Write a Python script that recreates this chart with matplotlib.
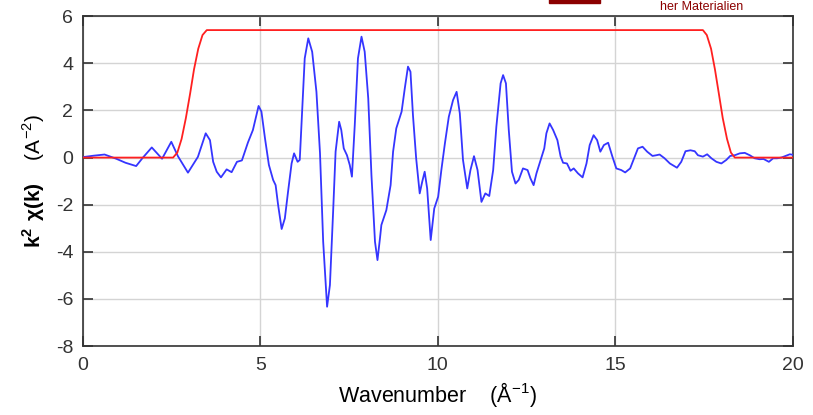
import matplotlib.pyplot as plt
from matplotlib.patches import Rectangle

plt.rcParams['font.family'] = ['Liberation Sans', 'DejaVu Sans']
plt.rcParams['axes.unicode_minus'] = False
plt.rcParams['mathtext.fontset'] = 'custom'
plt.rcParams['mathtext.rm'] = 'Liberation Sans'
plt.rcParams['mathtext.bf'] = 'Liberation Sans:bold'

# k^2 chi(k) (k in 1/Angstrom)
k_chi = [0.00, 0.30, 0.61, 0.94, 1.20, 1.50, 1.69, 1.94, 2.23, 2.49, 2.68, 2.96,
         3.24, 3.46, 3.58, 3.67, 3.77, 3.89, 4.05, 4.19, 4.34, 4.48, 4.65, 4.79,
         4.95, 5.03, 5.13, 5.24, 5.36, 5.43, 5.50, 5.60, 5.69, 5.78, 5.88, 5.95,
         6.05, 6.11, 6.18, 6.25, 6.35, 6.46, 6.58, 6.68, 6.77, 6.88, 6.96, 7.05,
         7.12, 7.22, 7.28, 7.35, 7.44, 7.52, 7.58, 7.66, 7.75, 7.85, 7.94, 8.04,
         8.13, 8.23, 8.30, 8.37, 8.41, 8.55, 8.67, 8.74, 8.83, 8.98, 9.07, 9.16,
         9.23, 9.30, 9.39, 9.49, 9.56, 9.63, 9.70, 9.80, 9.90, 10.01, 10.10, 10.20,
         10.31, 10.43, 10.53, 10.62, 10.71, 10.83, 10.92, 11.02, 11.12, 11.23, 11.34,
         11.45, 11.56, 11.65, 11.77, 11.84, 11.92, 12.00, 12.09, 12.19, 12.28, 12.40,
         12.53, 12.61, 12.70, 12.78, 12.90, 13.00, 13.06, 13.15, 13.25, 13.37, 13.46,
         13.53, 13.64, 13.74, 13.83, 13.95, 14.08, 14.19, 14.28, 14.39, 14.49, 14.58,
         14.68, 14.80, 14.92, 15.03, 15.17, 15.28, 15.42, 15.55, 15.64, 15.77, 15.90,
         16.05, 16.16, 16.25, 16.39, 16.54, 16.74, 16.86, 16.98, 17.12, 17.24, 17.33,
         17.47, 17.59, 17.71, 17.85, 17.99, 18.13, 18.24, 18.37, 18.51, 18.65, 18.79,
         18.93, 19.07, 19.18, 19.33, 19.45, 19.56, 19.68, 19.80, 19.92, 20.00]
chi = [0.02, 0.08, 0.13, -0.05, -0.22, -0.36, 0.00, 0.43, -0.05, 0.67, 0.05, -0.64,
       0.03, 1.03, 0.74, -0.18, -0.60, -0.84, -0.50, -0.62, -0.18, -0.12, 0.64, 1.17,
       2.19, 1.95, 0.82, -0.31, -0.95, -1.17, -2.01, -3.03, -2.58, -1.45, -0.25, 0.18,
       -0.18, -0.10, 2.09, 4.21, 5.06, 4.49, 2.79, 0.20, -3.57, -6.33, -5.41, -2.30,
       0.25, 1.52, 1.17, 0.39, 0.10, -0.32, -0.81, 1.38, 4.21, 5.13, 4.49, 2.51,
       -0.74, -3.57, -4.35, -3.43, -2.86, -2.23, -1.17, 0.25, 1.24, 1.95, 2.94, 3.86,
       3.64, 1.80, -0.03, -1.52, -1.03, -0.60, -1.31, -3.50, -2.16, -1.66, -0.53, 0.60,
       1.73, 2.44, 2.79, 1.88, -0.10, -1.31, -0.53, 0.06, -0.53, -1.88, -1.52,
       -1.63, -0.53, 1.31, 3.15, 3.50, 3.15, 1.17, -0.60, -1.10, -0.95, -0.46,
       -0.53, -0.88, -1.17, -0.67, -0.10, 0.39, 1.03, 1.45, 1.17, 0.74, 0.05,
       -0.22, -0.25, -0.56, -0.46, -0.67, -0.84, -0.25, 0.53, 0.95, 0.74, 0.25,
       0.53, 0.63, 0.04, -0.46, -0.53, -0.63, -0.46, 0.04, 0.39, 0.46, 0.25,
       0.07, 0.10, 0.13, -0.03, -0.25, -0.43, -0.18, 0.27, 0.31, 0.27, 0.10,
       0.04, 0.14, -0.03, -0.18, -0.25, -0.10, 0.07, 0.10, 0.18, 0.20, 0.10,
       -0.03, -0.07, -0.06, -0.18, -0.03, -0.03, 0.00, 0.07, 0.14, 0.12]

# window function (red)
k_win = [0.00, 2.54, 2.66, 2.78, 2.90, 3.02, 3.13, 3.25, 3.37, 3.49,
         17.47, 17.58, 17.70, 17.81, 17.92, 18.03, 18.15, 18.26, 18.37, 20.00]
win = [0.00, 0.00, 0.21, 0.79, 1.67, 2.71, 3.74, 4.62, 5.20, 5.41,
       5.41, 5.20, 4.62, 3.74, 2.71, 1.67, 0.79, 0.21, 0.00, 0.00]

x_ticks = [0, 5, 10, 15, 20]
y_ticks = [-8, -6, -4, -2, 0, 2, 4, 6]

fig = plt.figure(figsize=(8.13, 4.15), dpi=100)
ax = fig.add_axes([0.102, 0.166, 0.873, 0.795])

ax.plot(k_chi, chi, color='#3535ff', linewidth=1.3, zorder=3)
ax.plot(k_win, win, color='#ff2020', linewidth=1.3, zorder=4)

ax.set_xlim(0, 20)
ax.set_ylim(-8, 6)
ax.set_xticks(x_ticks)
ax.set_yticks(y_ticks)
ax.grid(True, color='#d4d4d4', linewidth=1.0, zorder=0)
ax.set_axisbelow(True)

ax.tick_params(direction='in', length=7, width=1.2, color='#333333',
               top=True, right=True, labelsize=14, labelcolor='#333333')
ax.tick_params(axis='x', pad=8)
ax.tick_params(axis='y', pad=7)
for s in ax.spines.values():
    s.set_color('#333333')
    s.set_linewidth(1.2)

ax.set_xlabel('Wavenumber    (Å$^{-1}$)', fontsize=15.5, labelpad=4)
ax.set_ylabel(r'$\mathbf{k^2\ \chi(k)}$    (A$^{-2}$)', fontsize=15, labelpad=6)

# legend remnant at the top edge
fig.patches.append(Rectangle((549 / 813, 1 - 3 / 415), 51 / 813, 0.02,
                             transform=fig.transFigure, color='#8b0000'))
fig.text(660 / 813, 1 - 1 / 415, 'her Materialien', color='#8b0000',
         fontsize=9, va='top', ha='left')

fig.savefig('out.png', dpi=100)
